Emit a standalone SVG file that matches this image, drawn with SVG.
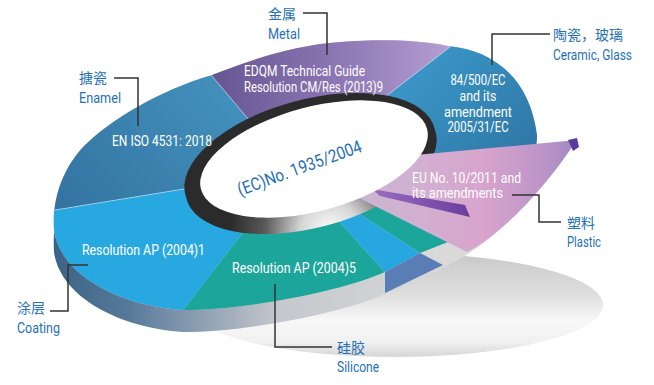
<svg xmlns="http://www.w3.org/2000/svg" width="654" height="385" viewBox="0 0 654 385">
<defs>
<style>
.lbl{font-family:Roboto,"Liberation Sans","Noto Sans CJK SC",sans-serif;font-size:14.5px;fill:#2671b6}
.cjk{font-family:"Noto Sans CJK SC","Noto Sans CJK TC",sans-serif;font-size:14px;fill:#2671b6}
.seg{font-family:Roboto,"Liberation Sans",sans-serif;font-size:14px;fill:#ffffff}
.lead{fill:none;stroke:#333333;stroke-width:1.5}
.sep{stroke:#ffffff;stroke-opacity:0.55;stroke-width:0.8;fill:none}
</style>
<linearGradient id="gShadow" x1="0" y1="0" x2="0" y2="1">
<stop offset="0" stop-color="#c9c9c9"/><stop offset="0.4" stop-color="#dedede"/><stop offset="0.65" stop-color="#f8f8f8"/><stop offset="0.85" stop-color="#f1f1f1"/><stop offset="1" stop-color="#d6d6d6"/>
</linearGradient>
<linearGradient id="gSide" gradientUnits="userSpaceOnUse" x1="54" y1="0" x2="460" y2="0">
<stop offset="0" stop-color="#3b6385"/><stop offset="0.18" stop-color="#56799a"/><stop offset="0.38" stop-color="#94a3b5"/><stop offset="0.55" stop-color="#c4c7cc"/><stop offset="1" stop-color="#dadada"/>
</linearGradient>
<linearGradient id="gEnamel" gradientUnits="userSpaceOnUse" x1="220" y1="80" x2="60" y2="210">
<stop offset="0" stop-color="#4290bd"/><stop offset="1" stop-color="#3473a1"/>
</linearGradient>
<linearGradient id="gMetal" gradientUnits="userSpaceOnUse" x1="210" y1="0" x2="450" y2="0">
<stop offset="0" stop-color="#645692"/><stop offset="0.5" stop-color="#8a74b2"/><stop offset="1" stop-color="#b59ed2"/>
</linearGradient>
<linearGradient id="gCeramic" gradientUnits="userSpaceOnUse" x1="420" y1="50" x2="530" y2="150">
<stop offset="0" stop-color="#3a97c8"/><stop offset="1" stop-color="#2f78a7"/>
</linearGradient>
<linearGradient id="gPlastic" gradientUnits="userSpaceOnUse" x1="340" y1="0" x2="577" y2="0">
<stop offset="0" stop-color="#c6b8d0"/><stop offset="0.35" stop-color="#d3afd1"/><stop offset="0.6" stop-color="#d8a4cd"/><stop offset="0.85" stop-color="#bd95c8"/><stop offset="1" stop-color="#9f88c2"/>
</linearGradient>
<linearGradient id="gStrip" gradientUnits="userSpaceOnUse" x1="372" y1="0" x2="470" y2="0">
<stop offset="0" stop-color="#9a6cc0"/><stop offset="1" stop-color="#6a3e9f"/>
</linearGradient>
<radialGradient id="gRim" gradientUnits="userSpaceOnUse" cx="330" cy="232" r="100">
<stop offset="0" stop-color="#ffffff"/><stop offset="0.3" stop-color="#d5d5d5"/><stop offset="0.65" stop-color="#5a5a5a"/><stop offset="1" stop-color="#2b2b2b"/>
</radialGradient>
<clipPath id="topClip">
<path d="M54,230 C52,200 62,170 83,147 C110,120 160,90 212,75 C250,60 295,45 340,42 C380,39 420,40 448,46 C495,50 530,80 537,135 C538,175 495,220 448,243 C425,256 405,264 385,272 C345,290 250,310 183,310 C120,306 60,275 54,230 Z"/>
</clipPath>
</defs>

<g id="shadow"><ellipse cx="395" cy="305" rx="208" ry="52" fill="url(#gShadow)"/></g>

<g id="ring-side"><path transform="translate(0,22)" fill="url(#gSide)" d="M54,230 C52,200 62,170 83,147 C110,120 160,90 212,75 C250,60 295,45 340,42 C380,39 420,40 448,46 C495,50 530,80 537,135 C538,175 495,220 448,243 C425,256 405,264 385,272 C345,290 250,310 183,310 C120,306 60,275 54,230 Z"/></g>

<g id="ring-base"><path fill="#d8d8d8" d="M54,230 C52,200 62,170 83,147 C110,120 160,90 212,75 C250,60 295,45 340,42 C380,39 420,40 448,46 C495,50 530,80 537,135 C538,175 495,220 448,243 C425,256 405,264 385,272 C345,290 250,310 183,310 C120,306 60,275 54,230 Z"/></g>

<g id="seg-enamel"><path clip-path="url(#topClip)" fill="url(#gEnamel)" d="M312,160 L255,127 L148,0 L0,0 L0,219 L190,188 Z"/></g>
<g id="seg-metal"><path clip-path="url(#topClip)" fill="url(#gMetal)" d="M312,160 L255,127 L148,0 L511,0 L385,97 Z"/></g>
<g id="seg-ceramic"><path clip-path="url(#topClip)" fill="url(#gCeramic)" d="M312,160 L385,97 L511,0 L654,0 L654,200 L400,190 Z"/></g>
<g id="seg-coating"><path clip-path="url(#topClip)" fill="#28a8e0" d="M312,160 L190,188 L0,219 L0,385 L125,385 L245,230 Z"/></g>
<g id="seg-silicone"><path clip-path="url(#topClip)" fill="#1ca59a" d="M312,160 L245,230 L125,385 L488,385 L385,272 L335,217 Z"/></g>

<g id="separators">
<line class="sep" x1="55" y1="210" x2="190" y2="188"/>
<line class="sep" x1="211" y1="75" x2="255" y2="127"/>
<line class="sep" x1="450" y1="47" x2="385" y2="97"/>
</g>

<g id="gap-band"><path fill="#d9d9d9" d="M360,196 L467,252 L443,265 L420,253 L448,242 L377,204 Z"/></g>
<g id="seg-teal-small"><path fill="#1ca59a" d="M353,210 L377,204 L448,242 L420,253 Z"/></g>
<g id="seg-blue-small"><path fill="#27a7df" d="M335,217 L353,210 L420,253 L385,272 Z"/></g>
<g id="seg-slate"><path fill="#5a7db6" d="M385,272 L420,253 L443,265 L385,293 Z"/></g>

<g id="hub-rim"><path fill="url(#gRim)" d="M186,197 A129,62 -15 1 1 435,130 A129,62 -15 1 1 186,197 Z"/></g>

<g id="seg-plastic">
<path fill="url(#gPlastic)" d="M577,140 L340,162 L340,188 L363,200 L467,252 C500,235 540,195 577,140 Z"/>
<path fill="url(#gStrip)" d="M372,189 L465,205 L470,217 L380,196 Z"/>
<path fill="#5b3b99" d="M568,140 L577,138 L579,147 L573,151 Z"/>
</g>

<g id="hub">
<ellipse cx="314" cy="159" rx="117" ry="52" transform="rotate(-15 314 159)" fill="#ffffff"/>
<text x="240" y="196" transform="rotate(-20 240 196)" font-family="Roboto,'Liberation Sans',sans-serif" font-size="17.5" fill="#1f6fb5" textLength="131" lengthAdjust="spacingAndGlyphs">(EC)No. 1935/2004</text>
</g>

<g id="text-metal">
<text class="seg" x="244" y="76" textLength="121" lengthAdjust="spacingAndGlyphs">EDQM Technical Guide</text>
<text class="seg" x="244" y="92" textLength="139" lengthAdjust="spacingAndGlyphs">Resolution CM/Res (2013)9</text>
</g>
<g id="text-enamel"><text class="seg" x="112" y="146" textLength="100" lengthAdjust="spacingAndGlyphs">EN ISO 4531: 2018</text></g>
<g id="text-ceramic">
<text class="seg" x="478" y="85" text-anchor="middle" textLength="55" lengthAdjust="spacingAndGlyphs">84/500/EC</text>
<text class="seg" x="478" y="101" text-anchor="middle" textLength="37" lengthAdjust="spacingAndGlyphs">and its</text>
<text class="seg" x="478" y="117" text-anchor="middle" textLength="68" lengthAdjust="spacingAndGlyphs">amendment</text>
<text class="seg" x="478" y="132" text-anchor="middle" textLength="61" lengthAdjust="spacingAndGlyphs">2005/31/EC</text>
</g>
<g id="text-plastic">
<text class="seg" x="412" y="183" textLength="109" lengthAdjust="spacingAndGlyphs">EU No. 10/2011 and</text>
<text class="seg" x="412" y="198" textLength="91" lengthAdjust="spacingAndGlyphs">its amendments</text>
</g>
<g id="text-coating"><text class="seg" x="82" y="255" textLength="123" lengthAdjust="spacingAndGlyphs">Resolution AP (2004)1</text></g>
<g id="text-silicone"><text class="seg" x="232" y="273" textLength="124" lengthAdjust="spacingAndGlyphs">Resolution AP (2004)5</text></g>

<g id="connectors">
<path class="lead" d="M303,13 H327 V55"/>
<path class="lead" d="M114,78 H138 V126"/>
<path class="lead" d="M550,34 H492 V65"/>
<path class="lead" d="M512,195 H539 V222 H561"/>
<path class="lead" d="M50,311 H68 V265 H88"/>
<path class="lead" d="M275,284 V347 H332"/>
</g>

<g id="label-metal"><text class="cjk" x="268" y="19">金属</text><text class="lbl" x="268" y="39" textLength="32" lengthAdjust="spacingAndGlyphs">Metal</text></g>
<g id="label-enamel"><text class="cjk" x="79" y="83">搪瓷</text><text class="lbl" x="79" y="103" textLength="42" lengthAdjust="spacingAndGlyphs">Enamel</text></g>
<g id="label-ceramic"><text class="cjk" x="553" y="40">陶瓷，玻璃</text><text class="lbl" x="553" y="60" textLength="79" lengthAdjust="spacingAndGlyphs">Ceramic, Glass</text></g>
<g id="label-plastic"><text class="cjk" x="567" y="228">塑料</text><text class="lbl" x="567" y="247" textLength="34" lengthAdjust="spacingAndGlyphs">Plastic</text></g>
<g id="label-coating"><text class="cjk" x="17" y="313">涂层</text><text class="lbl" x="17" y="333" textLength="43" lengthAdjust="spacingAndGlyphs">Coating</text></g>
<g id="label-silicone"><text class="cjk" x="337" y="353">硅胶</text><text class="lbl" x="337" y="372" textLength="42" lengthAdjust="spacingAndGlyphs">Silicone</text></g>
</svg>
